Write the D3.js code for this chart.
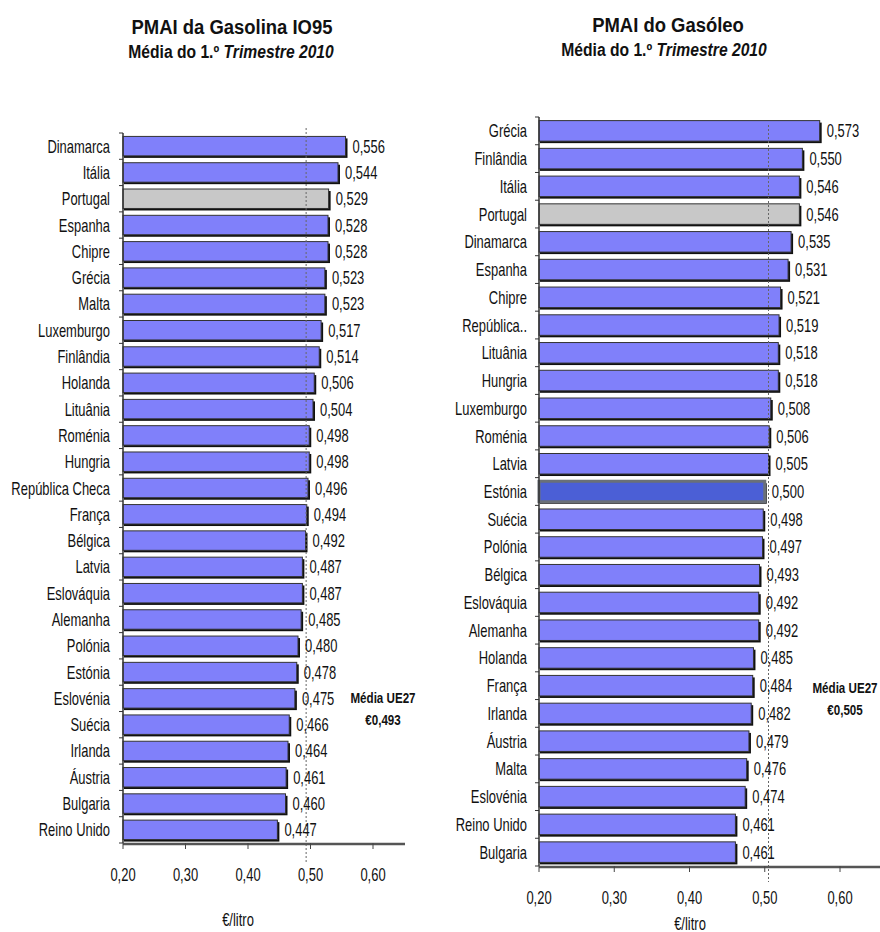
<!DOCTYPE html>
<html><head><meta charset="utf-8">
<script src="https://cdn.jsdelivr.net/npm/d3@7"></script>
<style>
body{margin:0;background:#fff;}
svg text{font-family:"Liberation Sans","Arial",sans-serif;fill:#111;}
</style></head>
<body>
<svg id="c" width="880" height="932"></svg>
<script>
const gasCountries = ["Dinamarca","Itália","Portugal","Espanha","Chipre","Grécia","Malta","Luxemburgo","Finlândia","Holanda","Lituânia","Roménia","Hungria","República Checa","França","Bélgica","Latvia","Eslováquia","Alemanha","Polónia","Estónia","Eslovénia","Suécia","Irlanda","Áustria","Bulgaria","Reino Unido"];
const gasValues = [0.556,0.544,0.529,0.528,0.528,0.523,0.523,0.517,0.514,0.506,0.504,0.498,0.498,0.496,0.494,0.492,0.487,0.487,0.485,0.480,0.478,0.475,0.466,0.464,0.461,0.460,0.447];
const gasMean = 0.493;

const dieCountries = ["Grécia","Finlândia","Itália","Portugal","Dinamarca","Espanha","Chipre","República..","Lituânia","Hungria","Luxemburgo","Roménia","Latvia","Estónia","Suécia","Polónia","Bélgica","Eslováquia","Alemanha","Holanda","França","Irlanda","Áustria","Malta","Eslovénia","Reino Unido","Bulgaria"];
const dieValues = [0.573,0.550,0.546,0.546,0.535,0.531,0.521,0.519,0.518,0.518,0.508,0.506,0.505,0.500,0.498,0.497,0.493,0.492,0.492,0.485,0.484,0.482,0.479,0.476,0.474,0.461,0.461];
const dieMean = 0.505;

const xTicks = [0.20,0.30,0.40,0.50,0.60];
const titles = [
  {main:"PMAI da Gasolina IO95", sub1:"Média do 1.º ", sub2:"Trimestre 2010"},
  {main:"PMAI do Gasóleo", sub1:"Média do 1.º ", sub2:"Trimestre 2010"}
];

const svg = d3.select("#c");
const fmt = v => d3.format(".3f")(v).replace(".", ",");
const fmtT = v => d3.format(".2f")(v).replace(".", ",");
const SX = 0.72; // narrow font emulation
const FS = 18;

function tr(x, y, sx){ return `translate(${x},${y}) scale(${sx},1)`; }

function drawChart(cfg){
  const {countries, values, mean, x0, x1, xEnd, yTop, yBot, labelX, title, titleX, titleY, subX, meanX, meanY, highlight, unitX, unitY, meanTop, meanBot} = cfg;
  const g = svg.append("g");
  const x = d3.scaleLinear().domain([0.2,0.6]).range([x0,x1]);
  const y = d3.scaleBand().domain(countries).range([yTop,yBot]).paddingInner(0.26).paddingOuter(0.13);

  // titles
  g.append("text").attr("transform",tr(titleX,titleY,0.9)).attr("text-anchor","middle")
    .attr("font-size",20.5).attr("font-weight","bold").text(title.main);
  const st = g.append("text").attr("transform",tr(subX,titleY+24,0.87)).attr("text-anchor","middle")
    .attr("font-size",18).attr("font-weight","bold");
  st.append("tspan").text(title.sub1);
  st.append("tspan").attr("font-style","italic").text(title.sub2);

  // bars shadow
  g.selectAll("rect.sh").data(countries).join("rect").attr("class","sh")
    .attr("x",x(0.2)+1).attr("y",d=>y(d)+2)
    .attr("width",(d,i)=>x(values[i])-x(0.2)+1).attr("height",y.bandwidth())
    .attr("fill","#111");
  g.selectAll("rect.bar").data(countries).join("rect").attr("class","bar")
    .attr("x",x(0.2)).attr("y",d=>y(d))
    .attr("width",(d,i)=>x(values[i])-x(0.2)).attr("height",y.bandwidth())
    .attr("fill",d=> d==="Portugal" ? "#c8c8c8" : (d===highlight ? "#4b5fd6" : "#8080fa"))
    .attr("stroke",d=> d===highlight ? "#6a7078" : "#333")
    .attr("stroke-width",d=> d===highlight ? 3 : 1);

  // mean line
  g.append("line").attr("x1",x(mean)).attr("x2",x(mean)).attr("y1",meanTop).attr("y2",meanBot)
    .attr("stroke","#666").attr("stroke-width",1).attr("stroke-dasharray","2,2");

  // value labels
  g.selectAll("text.val").data(countries).join("text").attr("class","val")
    .attr("transform",(d,i)=>tr(x(values[i])+7, y(d)+y.bandwidth()/2+6.5, SX))
    .attr("font-size",FS).text((d,i)=>fmt(values[i]));

  // category labels
  g.selectAll("text.cat").data(countries).join("text").attr("class","cat")
    .attr("transform",d=>tr(labelX, y(d)+y.bandwidth()/2+6.5, SX)).attr("text-anchor","end")
    .attr("font-size",FS).text(d=>d);

  // y axis line with ticks at band boundaries
  g.append("line").attr("x1",x0).attr("x2",x0).attr("y1",yTop).attr("y2",yBot)
    .attr("stroke","#333").attr("stroke-width",1.5);
  const bounds = countries.map(d=>y(d)-y.step()*y.paddingInner()/2).concat([yBot]);
  g.selectAll("line.yt").data(bounds).join("line").attr("class","yt")
    .attr("x1",x0-4).attr("x2",x0).attr("y1",d=>d).attr("y2",d=>d).attr("stroke","#333");

  // x axis
  g.append("line").attr("x1",x0).attr("x2",xEnd).attr("y1",yBot+1).attr("y2",yBot+1)
    .attr("stroke","#555").attr("stroke-width",2.5);
  g.selectAll("line.xt").data(xTicks).join("line").attr("class","xt")
    .attr("x1",d=>x(d)).attr("x2",d=>x(d)).attr("y1",yBot).attr("y2",yBot+6).attr("stroke","#444");
  g.selectAll("text.xl").data(xTicks).join("text").attr("class","xl")
    .attr("transform",d=>tr(x(d), yBot+38, SX)).attr("text-anchor","middle").attr("font-size",FS)
    .text(fmtT);
  g.append("text").attr("transform",tr(unitX,unitY,SX)).attr("text-anchor","middle")
    .attr("font-size",FS).text("€/litro");

  // mean label
  g.append("text").attr("transform",tr(meanX,meanY,0.8)).attr("text-anchor","middle")
    .attr("font-size",14.5).attr("font-weight","bold").text("Média UE27");
  g.append("text").attr("transform",tr(meanX,meanY+22,0.8)).attr("text-anchor","middle")
    .attr("font-size",14.5).attr("font-weight","bold").text("€" + fmt(mean));
}

drawChart({countries:gasCountries, values:gasValues, mean:gasMean,
  x0:123, x1:373, xEnd:405, yTop:133, yBot:843, labelX:110,
  title:titles[0], titleX:232, titleY:34, subX:231, meanX:383, meanY:703,
  highlight:null, unitX:238, unitY:926, meanTop:128, meanBot:862});

drawChart({countries:dieCountries, values:dieValues, mean:dieMean,
  x0:539, x1:840, xEnd:880, yTop:117, yBot:866, labelX:527,
  title:titles[1], titleX:668, titleY:32, subX:664, meanX:845, meanY:693,
  highlight:"Estónia", unitX:690, unitY:930, meanTop:125, meanBot:882});
</script>
</body></html>
